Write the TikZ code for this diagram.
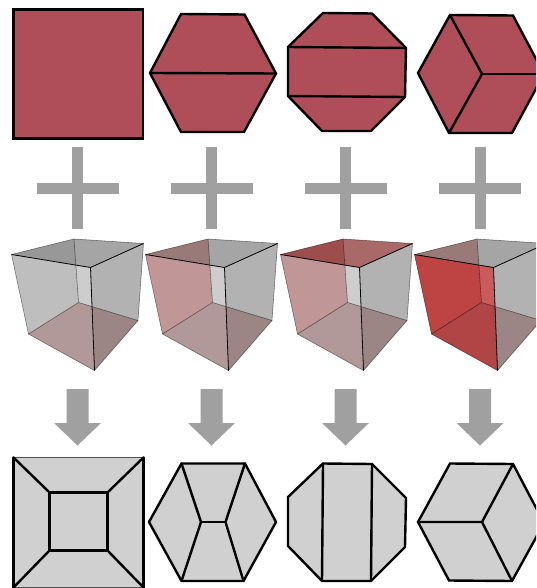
\documentclass[tikz,border=0pt]{standalone}
\definecolor{solid}{HTML}{AF4E59}
\definecolor{dual}{HTML}{D0D0D0}
\definecolor{sign}{HTML}{A0A0A0}
\definecolor{rim}{HTML}{505050}
% face tints, laid over one another with multiply
\definecolor{clearfl}{rgb}{0.90,0.90,0.90}
\definecolor{clearfr}{rgb}{0.78,0.78,0.78}
\definecolor{clearbl}{rgb}{0.83,0.83,0.83}
\definecolor{clearbr}{rgb}{0.90,0.90,0.90}
\definecolor{cleartop}{rgb}{0.72,0.72,0.72}
\definecolor{tintfl}{rgb}{0.89,0.40,0.40}
\definecolor{tintbl}{rgb}{0.84,0.66,0.66}
\definecolor{tinttop}{rgb}{0.74,0.46,0.46}
\definecolor{tintbot}{rgb}{0.78,0.67,0.67}
\tikzset{
  outline/.style={draw=black, line width=2.4pt, line cap=round},
  inface/.style={outline, fill=solid},
  outface/.style={outline, fill=dual},
  operator/.style={fill=sign, draw=none},
  frontedge/.style={draw=black, line width=0.8pt, line join=round},
  backedge/.style={draw=black, draw opacity=0.45, line width=0.6pt, line join=round},
  % a see-through cube: #1 top, #2 back-left wall, #3 front-left wall
  pics/cube/.style args={#1/#2/#3}{code={
     \coordinate (a) at (11.5,254.5);
     \coordinate (b) at (90.5,267.5);
     \coordinate (c) at (143.5,243.5);
     \coordinate (d) at (74,239);
     \coordinate (e) at (28.5,334);
     \coordinate (f) at (94.5,370.5);
     \coordinate (g) at (138,320.5);
     \coordinate (h) at (78.5,302.5);
     \begin{scope}[blend mode=multiply]
       \fill[tintbot] (e) -- (f) -- (g) -- (h) -- cycle;
       \fill[#2] (a) -- (d) -- (h) -- (e) -- cycle;
       \fill[clearbr] (d) -- (c) -- (g) -- (h) -- cycle;
       \fill[#1] (a) -- (b) -- (c) -- (d) -- cycle;
       \fill[#3] (a) -- (b) -- (f) -- (e) -- cycle;
       \fill[clearfr] (b) -- (c) -- (g) -- (f) -- cycle;
     \end{scope}
     \draw[backedge] (a) -- (d) -- (c) -- (g) -- (f) -- (e) -- (a);
     \draw[backedge] (d) -- (h) -- (e) (h) -- (g);
     \draw[frontedge] (a) -- (b) -- (c) (b) -- (f);
  }},
  pics/plus/.style={code={
     \fill[operator] (-41,183) rectangle (41,194);
     \fill[operator] (-5.5,147) rectangle (5.5,229);
  }},
  pics/downarrow/.style={code={
     \fill[operator] (-11,389) -- (11,389) -- (11,423) -- (23.5,423) -- (0,445.5)
                     -- (-23.5,423) -- (-11,423) -- cycle;
  }},
}

\begin{document}
\begin{tikzpicture}[x=1pt,y=-1pt]
\useasboundingbox (0,0) rectangle (536,588);
\clip (0,0) rectangle (536,588);

% ================= top row =================
\draw[inface] (13.5,9.5) rectangle (143,138.5);

\draw[inface] (150,73) -- (181,14) -- (244.5,14.5) -- (276,73.5) -- (244,132) -- (181,132) -- cycle;
\draw[outline] (150,73) -- (276,73.5);

\draw[inface] (288,47) -- (323,13) -- (372,13.5) -- (406,48) -- (405,97) -- (371,131) -- (322,131) -- (288,96) -- cycle;
\draw[outline] (288,47) -- (406,48);
\draw[outline] (288,96) -- (405,97);

\draw[inface] (418,73) -- (450,15) -- (513,15.5) -- (544,74) -- (512,133) -- (449,133) -- cycle;
\draw[outline] (450,15) -- (482,74) -- (449,133);
\draw[outline] (482,74) -- (544,74);

% ================= operators =================
\foreach \x in {77.5,211.5,345.5,480}{
  \pic at (\x,0) {plus};
  \pic at (\x,0) {downarrow};
}

% ================= cubes =================
\pic at (0,0) {cube={cleartop/clearbl/clearfl}};
\pic at (134,0) {cube={cleartop/tintbl/clearfl}};
\pic at (269,0) {cube={tinttop/tintbl/clearfl}};
\pic at (403,0) {cube={cleartop/tintbl/tintfl}};

% ================= bottom row =================
% outer square: heavy sides only, top and bottom stay thin
\fill[dual] (13.5,457.5) rectangle (143.5,587.5);
\draw[rim, line width=1.2pt] (13.5,457.5) -- (143.5,457.5) (13.5,587.5) -- (143.5,587.5);
\draw[outline] (13.5,457.5) -- (13.5,587.5);
\draw[outline] (143.5,457.5) -- (143.5,587.5);
\draw[outline] (49.5,492.5) rectangle (107.5,550.5);
\draw[outline] (13.5,457.5) -- (49.5,492.5);
\draw[outline] (143.5,457.5) -- (107.5,492.5);
\draw[outline] (13.5,587.5) -- (49.5,550.5);
\draw[outline] (143.5,587.5) -- (107.5,550.5);

\draw[outface] (149,522) -- (181.5,463.5) -- (245,463.5) -- (276,522) -- (243.5,581) -- (181.5,581) -- cycle;
\draw[outline] (181.5,463.5) -- (201,522) -- (181.5,581);
\draw[outline] (245,463.5) -- (225.5,522) -- (243.5,581);
\draw[outline] (201,522) -- (225.5,522);

\draw[outface] (288,497) -- (323,463.5) -- (372,464) -- (406,498) -- (405,547) -- (371,581) -- (322,581) -- (288,546) -- cycle;
\draw[outline] (323,463.5) -- (322,581);
\draw[outline] (372,464) -- (371,581);

\draw[outface] (418,522) -- (450,463.5) -- (513,464) -- (544,523) -- (512,581) -- (449,580.5) -- cycle;
\draw[outline] (418,522) -- (482,522) -- (513,464);
\draw[outline] (482,522) -- (512,581);

\end{tikzpicture}
\end{document}
